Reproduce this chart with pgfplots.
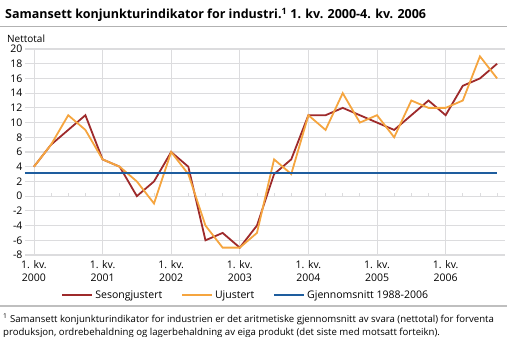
\documentclass[border=0pt]{standalone}
\usepackage{pgfplots}
\pgfplotsset{compat=1.18}
\usepackage{fontspec}
\setmainfont{Open Sans}
\definecolor{sred}{HTML}{9E2A2B}
\definecolor{sorange}{HTML}{F5A53F}
\definecolor{sblue}{HTML}{1E5D9E}
\definecolor{sgrid}{HTML}{DCDCDE}
\pgfplotstableread{
i ses uj
0 4 4
1 7 7
2 9 11
3 11 9
4 5 5
5 4 4
6 0 2
7 2 -1
8 6 6
9 4 3
10 -6 -4
11 -5 -7
12 -7 -7
13 -4 -5
14 3 5
15 5 3
16 11 11
17 11 9
18 12 14
19 11 10
20 10 11
21 9 8
22 11 13
23 13 12
24 11 12
25 15 13
26 16 19
27 18 16
}\datatable
\begin{document}
\begin{tikzpicture}[x=1pt,y=1pt]
\useasboundingbox (0,0) rectangle (507,-337);
\node[anchor=base west, inner sep=0, font=\bfseries\fontsize{12.5}{15}\selectfont] at (5,-19) {Samansett konjunkturindikator for industri.\textsuperscript{1} 1. kv. 2000-4. kv. 2006};
\draw[black!30, line width=1.2pt] (0,-26.5) -- (507,-26.5);
\node[anchor=base west, inner sep=0, font=\fontsize{10}{12}\selectfont] at (7,-43) {Nettotal};
\begin{axis}[
  at={(25pt,-255pt)}, anchor=south west,
  scale only axis, width=480pt, height=206pt,
  xmin=-0.52, xmax=27.46, ymin=-8, ymax=20,
  axis line style={draw=none},
  xtick={0,4,8,12,16,20,24},
  xticklabels={{1. kv.\\2000},{1. kv.\\2001},{1. kv.\\2002},{1. kv.\\2003},{1. kv.\\2004},{1. kv.\\2005},{1. kv.\\2006}},
  x tick label style={align=center, font=\fontsize{10.5}{12.5}\selectfont, yshift=-2pt},
  ytick={-8,-6,...,20},
  y tick label style={font=\fontsize{10.5}{12}\selectfont, xshift=1pt},
  /pgf/number format/assume math mode=true,
  major tick length=0pt,
  xmajorgrids, ymajorgrids,
  x grid style={sgrid, line width=0.8pt},
  y grid style={sgrid, line width=1.2pt},
  clip=false,
  legend columns=3,
  legend style={at={(0.46,-0.194)}, anchor=center, draw=none, fill=none,
    font=\fontsize{10.5}{12}\selectfont, inner sep=0pt,
    /tikz/every even column/.append style={column sep=17pt}},
  legend image code/.code={\draw[#1] (0pt,0pt) -- (30pt,0pt);},
]
\pgfplotsinvokeforeach{0,...,27}{\draw[sgrid, line width=0.8pt] (axis cs:#1,0) -- (axis cs:#1,0.45);}
\addplot[sred, line width=1.8pt, no marks] table[x=i, y=ses] {\datatable};
\addlegendentry{Sesongjustert}
\addplot[sorange, line width=1.8pt, no marks] table[x=i, y=uj] {\datatable};
\addlegendentry{Ujustert}
\addplot[sblue, line width=1.8pt, no marks] coordinates {(-0.52,3.1) (27,3.1)};
\addlegendentry{Gjennomsnitt 1988-2006}
\end{axis}
\draw[black!25, line width=1.2pt] (0,-306) -- (507,-306);
\node[anchor=base west, inner sep=0, font=\fontsize{9.6}{11}\selectfont] at (3,-322) {\textsuperscript{1} Samansett konjunkturindikator for industrien er det aritmetiske gjennomsnitt av svara (nettotal) for forventa};
\node[anchor=base west, inner sep=0, font=\fontsize{9.6}{11}\selectfont] at (3,-335) {produksjon, ordrebehaldning og lagerbehaldning av eiga produkt (det siste med motsatt forteikn).};
\end{tikzpicture}
\end{document}
